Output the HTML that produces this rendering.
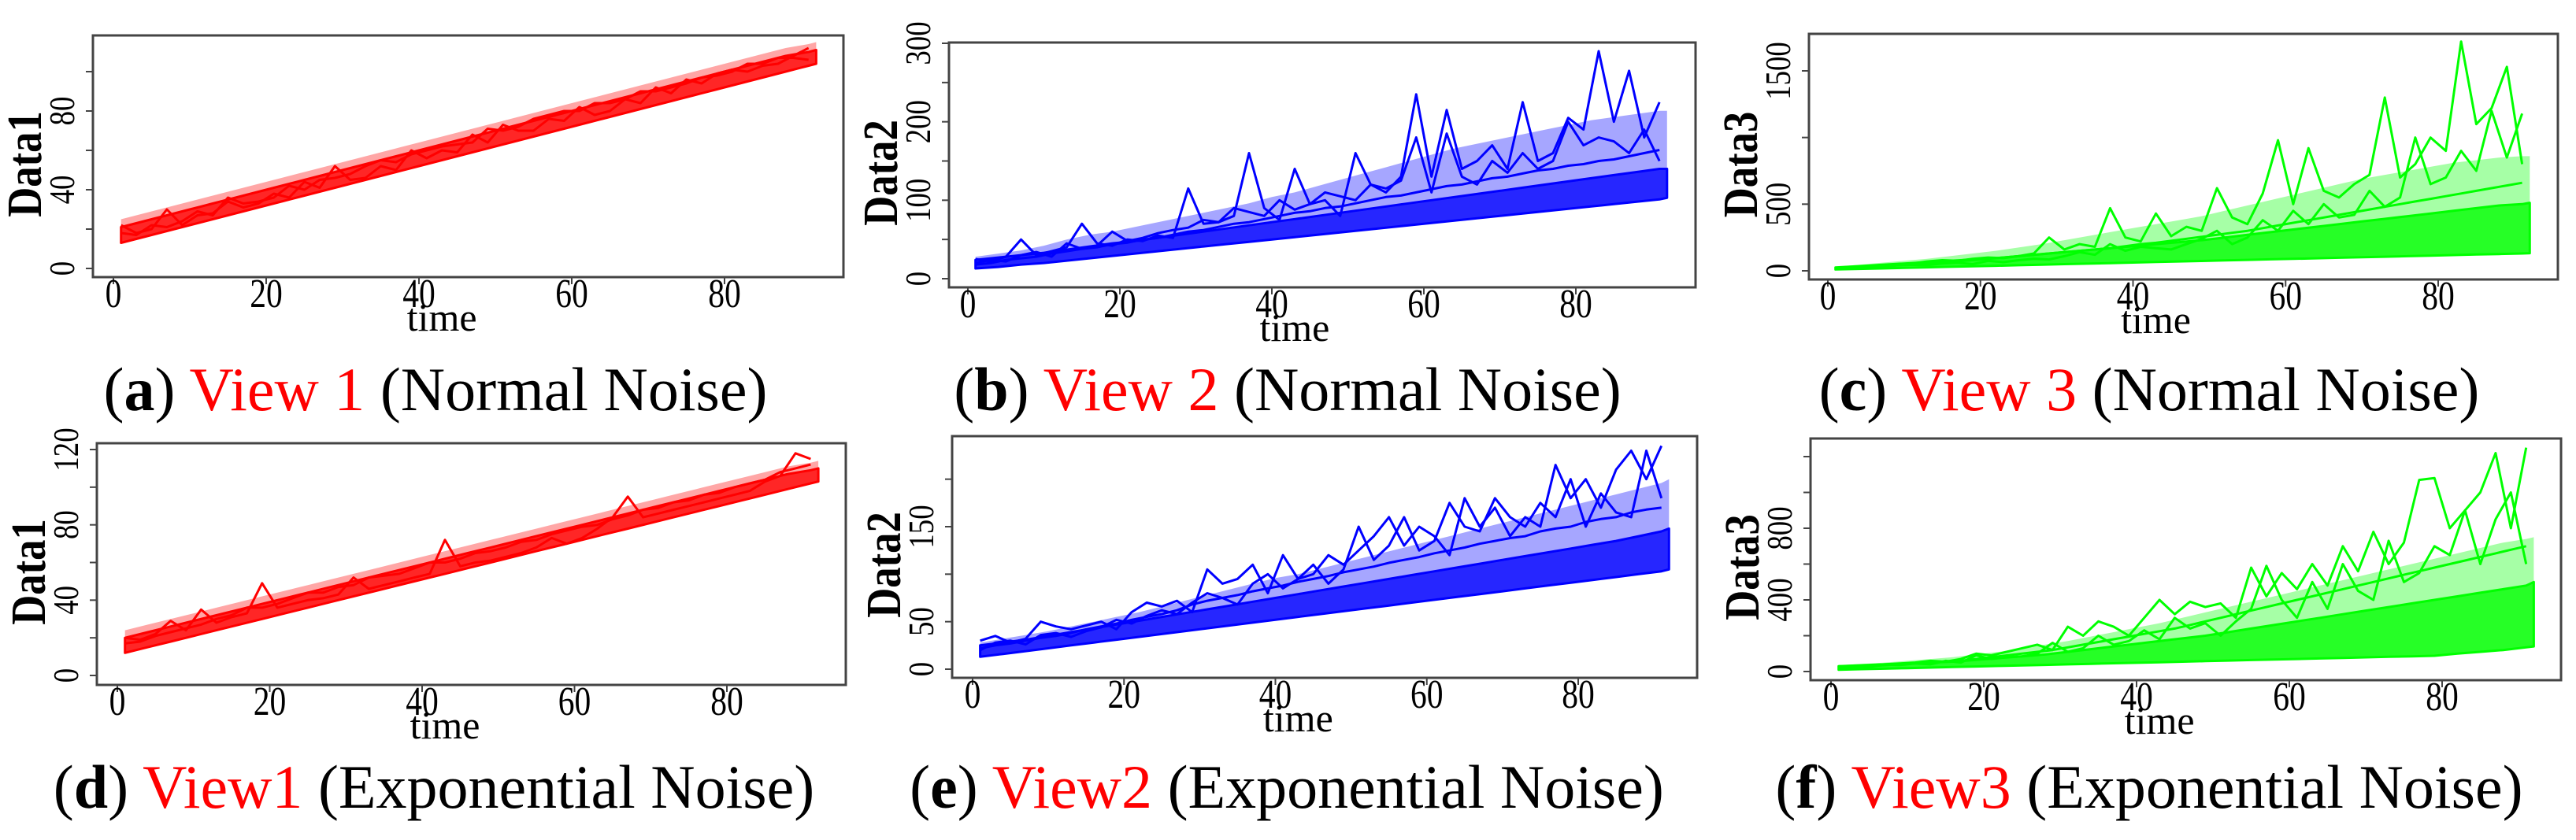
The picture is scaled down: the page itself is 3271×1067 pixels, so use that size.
<!DOCTYPE html>
<html><head><meta charset="utf-8">
<style>
html,body{margin:0;padding:0;background:#fff;}
svg{display:block;}
text{font-family:"Liberation Serif",serif;}
</style></head>
<body>
<svg id="fig" width="3271" height="1067" viewBox="0 0 3271 1067" xmlns="http://www.w3.org/2000/svg">
<rect x="0" y="0" width="3271" height="1067" fill="#fff"/>
<g font-size="78">
<text x="553" y="521" text-anchor="middle">(<tspan font-weight="bold">a</tspan>) <tspan fill="#ff0000">View 1</tspan> (Normal Noise)</text>
<text x="1635" y="521" text-anchor="middle">(<tspan font-weight="bold">b</tspan>) <tspan fill="#ff0000">View 2</tspan> (Normal Noise)</text>
<text x="2729" y="521" text-anchor="middle">(<tspan font-weight="bold">c</tspan>) <tspan fill="#ff0000">View 3</tspan> (Normal Noise)</text>
<text x="551" y="1026" text-anchor="middle">(<tspan font-weight="bold">d</tspan>) <tspan fill="#ff0000">View1</tspan> (Exponential Noise)</text>
<text x="1634" y="1026" text-anchor="middle">(<tspan font-weight="bold">e</tspan>) <tspan fill="#ff0000">View2</tspan> (Exponential Noise)</text>
<text x="2729" y="1026" text-anchor="middle">(<tspan font-weight="bold">f</tspan>) <tspan fill="#ff0000">View3</tspan> (Exponential Noise)</text>
</g>
</svg>
<script>
const bandT = [1,4,7,10,13,16,19,22,25,28,31,34,37,40,43,46,49,52,55,58,61,64,67,70,73,76,79,82,85,88,91,92];
const spikeT = [1,3,5,7,9,11,13,15,17,19,21,23,25,27,29,31,33,35,37,39,41,43,45,47,49,51,53,55,57,59,61,63,65,67,69,71,73,75,77,79,81,83,85,87,89,91];
const xTicks = [0,20,40,60,80];

const aLow = [13,16,19,22,25,28,31,34,37,40,43,46,49,52,55,58,61,64,67,70,73,76,79,82,85,88,91,94,97,100,103,104];
const aHigh = [21,24,27,30,33,36,39,42,45,48,51,54,57,60,63,66,69,72,75,78,81,84,87,90,93,96,99,102,105,108,110,111];
const aOuter = [25,28,31,34,37,40,43,46,49,52,55,58,61,64,67,70,73,76,79,82,85,88,91,94,97,100,103,106,109,112,114,115];
const aS1 = [22,18,20,30,22,27,28,34,31,33,38,36,44,41,52,45,46,52,50,60,56,60,59,68,64,73,70,70,76,75,82,78,80,86,84,92,89,96,94,99,101,100,103,104,108,112];
const aS2 = [18,17,22,21,24,29,27,36,33,34,36,42,40,45,46,48,52,55,54,58,60,62,63,64,71,70,72,76,78,80,80,84,84,86,90,90,92,94,97,98,100,104,104,107,107,106];
const aYTicks = [0,20,40,60,80,100];
const aYLabels = ["0","40","80"];

const bLow = [13,15,18,20,23,26,29,32,35,38,41,44,47,50,53,56,59,62,65,68,71,74,77,80,83,86,89,92,95,98,101,103];
const bHigh = [24,27,30,33,37,41,45,48,52,56,60,64,68,72,76,80,84,88,92,96,100,104,108,112,116,120,124,128,132,136,140,140];
const bOuter = [28,32,36,42,50,56,60,66,72,78,84,90,96,104,110,118,126,134,142,150,158,166,172,178,184,190,196,202,206,210,214,214];
const bS1 = [25,22,28,50,30,35,40,70,45,42,50,48,55,52,115,70,72,80,160,90,75,140,95,100,80,160,120,110,130,235,130,215,140,150,170,140,225,150,160,205,190,290,200,265,180,225];
const bS2 = [18,20,24,26,28,32,35,38,40,44,46,50,52,56,60,62,66,70,72,76,80,84,86,90,92,96,100,104,106,110,114,118,120,124,128,130,134,138,140,144,146,150,152,156,160,164];
const bS3 = [20,24,22,30,34,28,45,38,42,60,48,52,58,62,65,75,72,90,85,80,100,88,95,110,105,100,120,115,125,180,110,185,130,120,150,135,160,140,150,200,170,180,175,160,190,150];
const bYTicks = [0,50,100,150,200,250,300];
const bYLabels = ["0","100","200","300"];

const cLow = [10,14,18,22,26,30,34,38,42,46,50,54,58,62,66,70,74,78,82,86,90,94,98,102,106,110,114,118,122,126,130,132];
const cHigh = [25,35,45,55,65,75,85,95,110,125,140,155,170,185,200,215,230,250,270,290,310,330,350,370,390,410,430,450,470,490,500,510];
const cOuter = [30,45,60,75,90,110,130,150,175,200,230,260,290,320,350,380,410,450,490,530,570,610,650,690,720,750,780,810,830,850,860,860];
const cS1 = [20,25,35,40,45,55,70,80,75,90,100,95,110,130,250,160,200,180,470,250,220,430,260,330,300,620,400,350,580,980,500,920,600,550,650,720,1300,700,800,1000,900,1720,1100,1220,1530,800];
const cS2 = [15,22,28,35,42,50,58,65,72,80,90,100,110,120,130,140,150,160,170,185,200,210,225,240,255,270,285,300,320,340,360,380,400,420,440,460,480,500,520,540,560,580,600,620,640,660];
const cS3 = [18,20,30,28,40,45,42,55,60,50,75,65,80,90,85,110,140,120,200,150,180,170,160,200,240,300,200,250,380,300,450,350,500,400,420,600,480,550,1000,650,700,900,750,1200,850,1180];
const cYTicks = [0,500,1000,1500];
const cYLabels = ["0","500","1500"];

const dLow = [12,15,18,21,24,27,30,33,36,39,42,45,48,51,54,57,60,63,66,69,72,75,78,81,84,87,90,93,96,99,102,103];
const dHigh = [20,23,26,29,32,35,38,41,44,47,50,53,56,59,62,65,68,71,74,77,80,83,86,89,92,95,98,101,104,107,109,110];
const dOuter = [24,27,30,33,36,39,42,45,48,51,54,57,60,63,66,69,72,75,78,81,84,87,90,93,96,99,102,105,108,111,113,114];
const dS1 = [20,19,22,29,24,35,28,31,33,49,36,38,40,41,43,52,46,48,50,52,54,72,58,60,61,63,65,68,73,70,73,78,84,95,84,86,88,90,92,94,96,98,103,106,118,115];
const dS2 = [17,18,21,23,25,27,30,32,36,36,38,41,44,44,47,48,52,53,54,57,60,60,62,65,66,68,71,72,75,77,79,80,83,85,88,89,92,93,96,97,100,102,104,108,110,112];
const dYTicks = [0,20,40,60,80,100,120];
const dYLabels = ["0","40","80","120"];

const eLow = [13,16,19,22,25,28,31,34,37,40,43,46,49,52,55,58,61,64,67,70,73,76,79,82,85,88,91,94,97,100,103,105];
const eHigh = [25,28,31,35,39,43,47,51,55,59,63,67,71,75,79,83,87,91,95,99,103,107,111,115,119,123,127,131,135,140,145,148];
const eOuter = [28,32,36,40,45,50,55,60,66,72,78,84,90,96,100,106,112,118,124,130,136,142,148,154,160,166,172,178,184,190,196,200];
const eS1 = [30,35,28,32,50,45,42,46,50,42,60,70,66,72,60,105,90,95,110,80,120,95,100,120,110,125,140,160,130,150,140,120,180,150,170,140,160,150,215,180,200,170,210,230,200,235];
const eS2 = [22,25,27,30,33,35,38,42,45,48,52,55,58,62,68,72,75,78,82,85,88,92,95,98,102,105,108,112,115,118,122,125,128,132,135,138,140,145,148,150,155,158,160,165,168,170];
const eS3 = [20,28,30,26,36,38,34,40,44,52,48,56,62,58,70,80,75,68,90,100,85,95,110,90,105,150,115,130,160,125,135,175,150,145,180,160,150,175,160,200,150,185,165,160,230,180];
const eYTicks = [0,50,100,150,200];
const eYLabels = ["0","50","150"];

const fLow = [10,13,16,19,22,25,28,31,34,37,40,43,46,49,52,55,58,61,64,67,70,73,76,79,82,85,88,100,110,120,135,140];
const fHigh = [30,35,40,45,50,55,65,75,85,95,110,125,140,155,170,185,200,220,240,260,280,300,320,340,360,380,400,420,440,460,480,500];
const fOuter = [35,42,50,60,70,80,95,110,130,150,170,195,220,245,270,300,330,360,390,420,450,480,510,540,570,600,630,660,690,720,740,750];
const fS1 = [30,25,35,40,45,50,60,55,70,100,90,110,130,150,120,250,200,280,250,200,300,400,320,390,360,380,300,580,420,550,460,600,480,700,560,780,600,720,1070,1080,800,900,1000,1220,800,1250];
const fS2 = [20,25,30,35,40,45,50,55,60,70,80,90,100,110,120,135,150,165,180,195,210,225,240,260,280,300,320,340,360,380,400,420,440,460,480,500,520,540,560,580,600,620,640,660,680,700];
const fS3 = [22,28,26,38,36,45,40,60,50,90,70,80,85,100,160,110,130,200,150,170,230,180,300,240,270,200,280,350,590,400,300,500,350,600,450,400,730,500,550,700,650,900,600,850,1000,600];
const fYTicks = [0,200,400,600,800,1000,1200];
const fYLabels = ["0","400","800"];

const NS = "http://www.w3.org/2000/svg";
const svg = document.getElementById("fig");
function mk(tag, attrs, parent){
  const e = document.createElementNS(NS, tag);
  for (const k in attrs) e.setAttribute(k, attrs[k]);
  (parent||svg).appendChild(e);
  return e;
}
const panels = [
 {id:"a", box:[118,45,1071,352], x0:144, x80:920, y0:341, yRefV:80, yRefP:141, color:"#ff0000", low:aLow, high:aHigh, outer:aOuter, spikes:[aS1,aS2], yt:aYTicks, yl:aYLabels, ylab:"Data1"},
 {id:"b", box:[1205,54,2153,365], x0:1229, x80:2001, y0:354, yRefV:300, yRefP:55, color:"#0000ff", low:bLow, high:bHigh, outer:bOuter, spikes:[bS1,bS2,bS3], yt:bYTicks, yl:bYLabels, ylab:"Data2"},
 {id:"c", box:[2297,43,3248,355], x0:2321, x80:3096, y0:344, yRefV:1500, yRefP:90, color:"#00ff00", low:cLow, high:cHigh, outer:cOuter, spikes:[cS1,cS2,cS3], yt:cYTicks, yl:cYLabels, ylab:"Data3"},
 {id:"d", box:[123,563,1074,870], x0:149, x80:923, y0:858, yRefV:120, yRefP:571, color:"#ff0000", low:dLow, high:dHigh, outer:dOuter, spikes:[dS1,dS2], yt:dYTicks, yl:dYLabels, ylab:"Data1"},
 {id:"e", box:[1209,554,2155,861], x0:1235, x80:2004, y0:850, yRefV:150, yRefP:669, color:"#0000ff", low:eLow, high:eHigh, outer:eOuter, spikes:[eS1,eS2,eS3], yt:eYTicks, yl:eYLabels, ylab:"Data2"},
 {id:"f", box:[2299,557,3252,864], x0:2325, x80:3101, y0:853, yRefV:800, yRefP:671, color:"#00ff00", low:fLow, high:fHigh, outer:fOuter, spikes:[fS1,fS2,fS3], yt:fYTicks, yl:fYLabels, ylab:"Data3"}
];
panels.forEach(p => {
  const g = mk("g", {});
  
  
  const X = t => p.x0 + (p.x80 - p.x0) * t / 80;
  const Y = v => p.y0 + (p.yRefP - p.y0) * v / p.yRefV;
  const [L,T,R,B] = p.box;
  function bandPath(top, bot){
    let d = "";
    bandT.forEach((t,i) => { d += (i ? "L" : "M") + X(t).toFixed(1) + " " + Y(top[i]).toFixed(1); });
    for (let i = bandT.length - 1; i >= 0; i--) d += "L" + X(bandT[i]).toFixed(1) + " " + Y(bot[i]).toFixed(1);
    return d + "Z";
  }
  const ob = mk("path", {d: bandPath(p.outer, p.high), fill: p.color, "fill-opacity": 0.35, stroke: "none"}, g);
  
  
  const band = mk("path", {d: bandPath(p.high, p.low), fill: p.color, "fill-opacity": 0.85, stroke: p.color, "stroke-width": 3, "stroke-linejoin": "round"}, g);
  
  
  p.spikes.forEach((s, k) => {
    let pd = "";
    spikeT.forEach((t,i) => { pd += (i ? "L" : "M") + X(t).toFixed(1) + " " + Y(s[i]).toFixed(1); });
    const ln = mk("path", {d: pd, fill: "none", stroke: p.color, "stroke-width": 3, "stroke-linejoin": "round"}, g);
    
    
  });
  const bx = mk("rect", {x: L, y: T, width: R - L, height: B - T, fill: "none", stroke: "#444", "stroke-width": 3}, g);
  
  
  xTicks.forEach(t => {
    const tk = mk("line", {x1: X(t), x2: X(t), y1: B, y2: B + 9, stroke: "#444", "stroke-width": 2}, g);
    
    
    const tl = mk("text", {x: 0, y: 0, "text-anchor": "middle", "font-size": 52, transform: "translate(" + X(t) + "," + (B + 38) + ") scale(0.8,1)"}, g);
    tl.textContent = String(t);
    
    
  });
  p.yt.forEach(v => {
    const tk = mk("line", {x1: L - 9, x2: L, y1: Y(v), y2: Y(v), stroke: "#444", "stroke-width": 2}, g);
    
    
  });
  p.yl.forEach(s => {
    const v = Number(s);
    const cx = L - 24, cy = Y(v);
    const tl = mk("text", {x: 0, y: 0, "text-anchor": "middle", "font-size": 46, transform: "translate(" + cx + "," + cy + ") rotate(-90) scale(0.8,1)"}, g);
    tl.textContent = s;
    
    
  });
  const yl = mk("text", {x: 0, y: 0, "text-anchor": "middle", "font-size": 62, "font-weight": "bold", transform: "translate(" + (L - 66) + "," + ((T + B) / 2 + 10) + ") rotate(-90) scale(0.85,1)"}, g);
  yl.textContent = p.ylab;
  
  
  const xl = mk("text", {x: X(43), y: B + 68, "text-anchor": "middle", "font-size": 50}, g);
  xl.textContent = "time";
  
  
});
</script>
</body></html>
